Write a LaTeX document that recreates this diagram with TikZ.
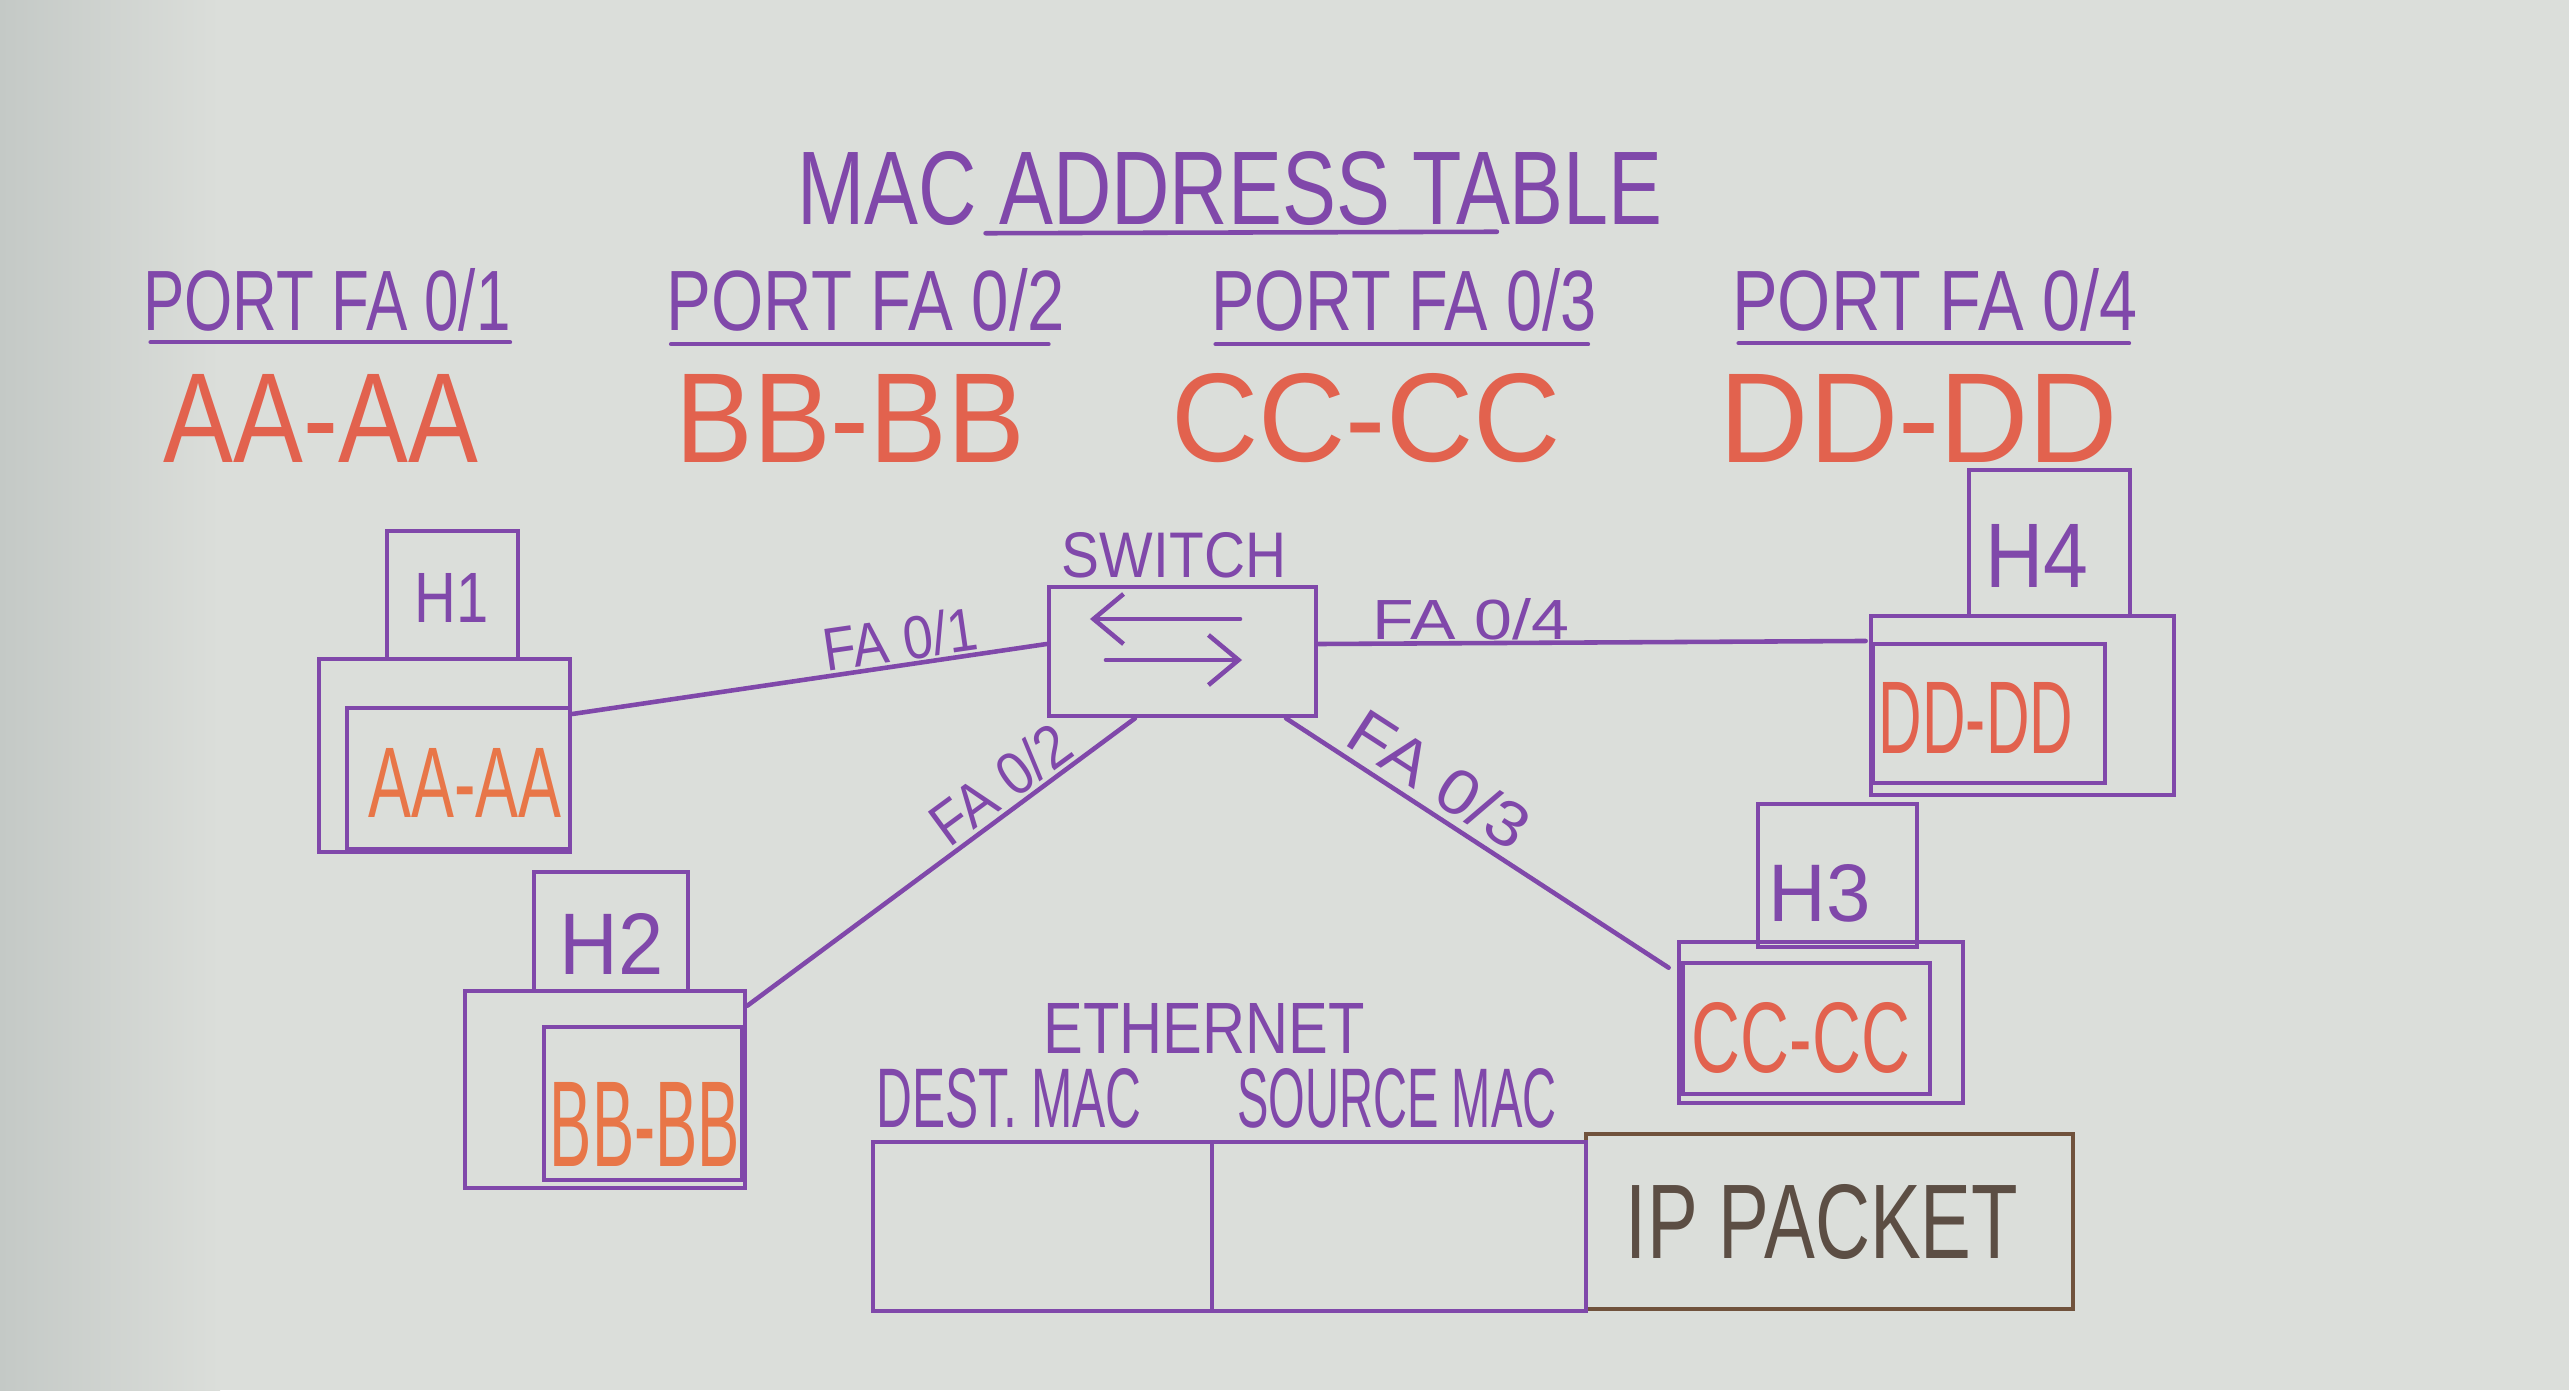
\documentclass[tikz,border=0pt]{standalone}
\usepackage{fontspec}
\setmainfont{Liberation Sans}
\usetikzlibrary{arrows.meta}
\definecolor{board}{RGB}{219,222,218}
\definecolor{boardd}{RGB}{196,201,198}
\definecolor{mk}{RGB}{128,72,170}
\definecolor{rd}{RGB}{226,98,78}
\definecolor{org}{RGB}{232,118,72}
\definecolor{brn}{RGB}{112,82,60}
\definecolor{ipt}{RGB}{92,78,68}
\newcommand{\hw}[3]{\resizebox{#1cm}{#2cm}{#3}}
\begin{document}
\begin{tikzpicture}[x=0.01cm,y=-0.01cm,
  mline/.style={draw=mk,line width=1.3pt,line cap=round},
  hbox/.style={draw=mk,line width=1.3pt,inner sep=0pt,rectangle},
  ptxt/.style={inner sep=0pt,text=mk},
  rtxt/.style={inner sep=0pt,text=rd},
  otxt/.style={inner sep=0pt,text=org}]
\useasboundingbox (0,0) rectangle (2569,1390);
\fill[board] (0,0) rectangle (2569,1390);
\shade[left color=boardd,right color=board] (0,0) rectangle (220,1390);

% title
\node[ptxt] (title) at (1230,188) {\hw{8.65}{0.73}{MAC ADDRESS TABLE}};
\draw[mline] ([xshift=1.89cm,yshift=-0.075cm]title.south west) -- ([xshift=7.0cm,yshift=-0.06cm]title.south west);

% port headers
\node[ptxt] (p1) at (327,300) {\hw{3.67}{0.62}{PORT FA 0/1}};
\node[ptxt] (p2) at (866,300) {\hw{3.98}{0.62}{PORT FA 0/2}};
\node[ptxt] (p3) at (1404,300) {\hw{3.85}{0.62}{PORT FA 0/3}};
\node[ptxt] (p4) at (1935,300) {\hw{4.05}{0.62}{PORT FA 0/4}};
\draw[mline] ([xshift=0.08cm,yshift=-0.10cm]p1.south west) -- ([xshift=3.67cm,yshift=-0.10cm]p1.south west);
\draw[mline] ([xshift=0.05cm,yshift=-0.12cm]p2.south west) -- ([xshift=3.82cm,yshift=-0.12cm]p2.south west);
\draw[mline] ([xshift=0.05cm,yshift=-0.12cm]p3.south west) -- ([xshift=3.77cm,yshift=-0.12cm]p3.south west);
\draw[mline] ([xshift=0.07cm,yshift=-0.11cm]p4.south west) -- ([xshift=3.97cm,yshift=-0.11cm]p4.south west);

% table MAC values
\node[rtxt] (m1) at (321,418) {\hw{3.14}{0.88}{AA-AA}};
\node[rtxt] (m2) at (850,418) {\hw{3.49}{0.88}{BB-BB}};
\node[rtxt] (m3) at (1366,418) {\hw{3.89}{0.88}{CC-CC}};
\node[rtxt] (m4) at (1919,418) {\hw{3.98}{0.88}{DD-DD}};

% switch
\node[hbox,minimum width=2.67cm,minimum height=1.29cm] (sw) at (1182.5,651.5) {};
\node[ptxt] (swl) at (1174,555) {\hw{2.24}{0.45}{SWITCH}};
\draw[mline,-{Straight Barb[length=0.3cm,width=0.5cm]}] ([xshift=0.575cm,yshift=0.325cm]sw.center) -- ([xshift=-0.925cm,yshift=0.325cm]sw.center);
\draw[mline,-{Straight Barb[length=0.3cm,width=0.5cm]}] ([xshift=-0.765cm,yshift=-0.085cm]sw.center) -- ([xshift=0.595cm,yshift=-0.085cm]sw.center);

% H1
\node[hbox,minimum width=1.31cm,minimum height=1.28cm] (h1s) at (452.5,595) {};
\node[hbox,minimum width=2.51cm,minimum height=1.93cm] (h1b) at (444.5,755.5) {};
\node[hbox,minimum width=2.23cm,minimum height=1.41cm] (h1i) at (458.5,778.5) {};
\node[ptxt] (h1t) at (452,598) {\hw{0.74}{0.49}{H1}};
\node[otxt] (h1m) at (465,783) {\hw{1.93}{0.69}{AA-AA}};

% H2
\node[hbox,minimum width=1.54cm,minimum height=1.19cm] (h2s) at (611,931.5) {};
\node[hbox,minimum width=2.80cm,minimum height=1.97cm] (h2b) at (605,1089.5) {};
\node[hbox,minimum width=1.98cm,minimum height=1.53cm] (h2i) at (643,1103.5) {};
\node[ptxt] (h2t) at (612,944) {\hw{1.04}{0.61}{H2}};
\node[otxt] (h2m) at (645,1124) {\hw{1.90}{0.84}{BB-BB}};

% H3
\node[hbox,minimum width=1.59cm,minimum height=1.43cm] (h3s) at (1837.5,875.5) {};
\node[hbox,minimum width=2.84cm,minimum height=1.61cm] (h3b) at (1821,1022.5) {};
\node[hbox,minimum width=2.47cm,minimum height=1.31cm] (h3i) at (1806.5,1028.5) {};
\node[ptxt] (h3t) at (1820,893) {\hw{1.02}{0.57}{H3}};
\node[rtxt] (h3m) at (1801,1038) {\hw{2.18}{0.70}{CC-CC}};

% H4
\node[hbox,minimum width=1.61cm,minimum height=1.46cm] (h4s) at (2049.5,543) {};
\node[hbox,minimum width=3.03cm,minimum height=1.79cm] (h4b) at (2022.5,705.5) {};
\node[hbox,minimum width=2.32cm,minimum height=1.39cm] (h4i) at (1989,713.5) {};
\node[ptxt] (h4t) at (2037,556) {\hw{1.03}{0.63}{H4}};
\node[rtxt] (h4m) at (1976,718) {\hw{1.94}{0.71}{DD-DD}};

% links
\draw[mline] ([yshift=0.415cm]h1b.east) -- ([yshift=0.075cm]sw.west);
\draw[mline] ([yshift=0.075cm]sw.east) -- ([yshift=0.645cm,xshift=-0.03cm]h4b.west);
\draw[mline] ([xshift=-0.475cm]sw.south) -- ([yshift=-0.17cm]h2b.north east);
\draw[mline] ([xshift=1.035cm]sw.south) -- ([xshift=-0.08cm,yshift=-0.28cm]h3b.north west);

% link labels
\node[ptxt,rotate=8.3] (l1) at (900,639) {\hw{1.55}{0.44}{FA 0/1}};
\node[ptxt] (l4) at (1471,619) {\hw{1.97}{0.41}{FA 0/4}};
\node[ptxt,rotate=36.3] (l2) at (1000,784) {\hw{1.58}{0.44}{FA 0/2}};
\node[ptxt,rotate=-32.9] (l3) at (1440,779) {\hw{2.02}{0.46}{FA 0/3}};

% ethernet frame
\node[ptxt] (eth) at (1204,1028) {\hw{3.21}{0.50}{ETHERNET}};
\node[ptxt] (dst) at (1009,1098) {\hw{2.65}{0.59}{DEST. MAC}};
\node[ptxt] (src) at (1397,1098) {\hw{3.19}{0.59}{SOURCE MAC}};
\node[draw=brn,line width=1.3pt,inner sep=0pt,minimum width=4.87cm,minimum height=1.75cm] (ip) at (1829.5,1221.5) {};
\node[hbox,minimum width=3.39cm,minimum height=1.69cm] (fd) at (1042.5,1226.5) {};
\node[hbox,minimum width=3.74cm,minimum height=1.69cm] (fs) at (1399,1226.5) {};
\node[inner sep=0pt,text=ipt] (ipt) at (1822,1222) {\hw{3.92}{0.74}{IP PACKET}};
\end{tikzpicture}
\end{document}
